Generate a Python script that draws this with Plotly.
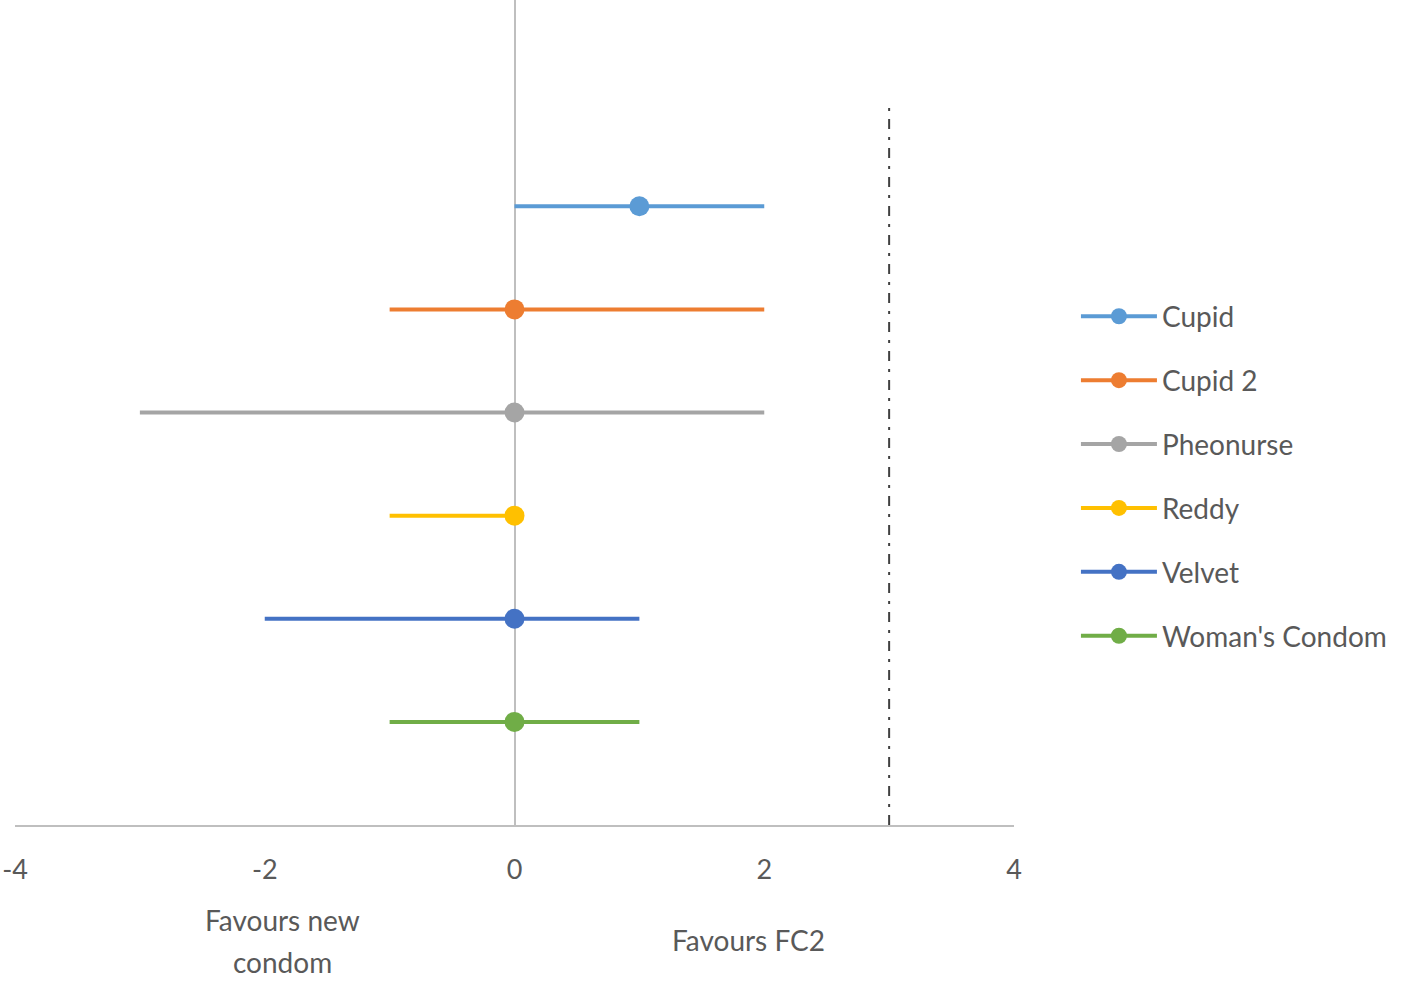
"""
Forest plot: new female condoms vs FC2
"""

import plotly.graph_objects as go

# data
products = ["Cupid", "Cupid 2", "Pheonurse", "Reddy", "Velvet", "Woman's Condom"]
row_pos = [6, 5, 4, 3, 2, 1]
estimates = [1, 0, 0, 0, 0, 0]
lower = [0, -1, -3, -1, -2, -1]
upper = [2, 2, 2, 0, 1, 1]
colors = ['#5B9BD5', '#ED7D31', '#A5A5A5', '#FFC000', '#4472C4', '#70AD47']

ref_x = [3, 3]
ref_y = [0, 7]

x_ticks = [-4, -2, 0, 2, 4]

text_color = '#595959'
font_family = 'Lato, "Open Sans", sans-serif'

fig = go.Figure()

for name, y, est, lo, hi, col in zip(products, row_pos, estimates, lower, upper, colors):
    # confidence interval
    fig.add_trace(go.Scatter(
        x=[lo, hi],
        y=[y, y],
        mode='lines',
        legendgroup=name,
        showlegend=False,
        line=dict(color=col, width=4),
        hoverinfo='skip'
    ))
    # point estimate (also carries the legend entry)
    fig.add_trace(go.Scatter(
        x=[est],
        y=[y],
        mode='lines+markers',
        name=name,
        legendgroup=name,
        line=dict(color=col, width=4),
        marker=dict(color=col, size=20, opacity=1),
        hovertemplate='<b>' + name + '</b><br>%{x}<extra></extra>'
    ))

# reference line
fig.add_trace(go.Scatter(
    x=ref_x,
    y=ref_y,
    mode='lines',
    showlegend=False,
    line=dict(color='#404040', width=2, dash='10px,8px,3px,8px'),
    hoverinfo='skip'
))

# side labels under the axis
side_labels = [
    (-1.86, -0.115, 'Favours new'),
    (-1.86, -0.166, 'condom'),
    (1.87, -0.139, 'Favours FC2'),
]
for lx, ly, txt in side_labels:
    fig.add_annotation(
        x=lx, y=ly, xref='x', yref='paper',
        xanchor='center', yanchor='middle',
        text=txt, showarrow=False,
        font=dict(size=28, color=text_color, family=font_family)
    )

fig.update_layout(
    width=1418,
    height=981,
    margin=dict(l=15, r=404, t=0, b=156),
    plot_bgcolor='white',
    paper_bgcolor='white',
    font=dict(family=font_family, color=text_color),
    showlegend=True,
    legend=dict(
        x=1.062, y=0.423, xanchor='left', yanchor='middle',
        font=dict(size=28, color=text_color, family=font_family),
        traceorder='grouped',
        tracegroupgap=24.5,
        itemwidth=76,
    ),
    xaxis=dict(
        range=[-4, 4],
        tickvals=x_ticks,
        ticktext=[str(v) for v in x_ticks],
        tickfont=dict(size=27, color=text_color),
        showgrid=False,
        zeroline=True,
        zerolinecolor='#BFBFBF',
        zerolinewidth=2,
        showline=True,
        linecolor='#BFBFBF',
        linewidth=2,
        ticks='',
        ticklabelstandoff=20,
        automargin=False,
    ),
    yaxis=dict(
        range=[0, 8],
        showgrid=False,
        zeroline=False,
        showticklabels=False,
        showline=False,
        ticks='',
        automargin=False,
    ),
)

# drop the browser's default page margin so the figure sits at the corner
fig.write_html(
    "out.html",
    config={'displayModeBar': False},
    post_script="document.body.style.margin='0';"
)
